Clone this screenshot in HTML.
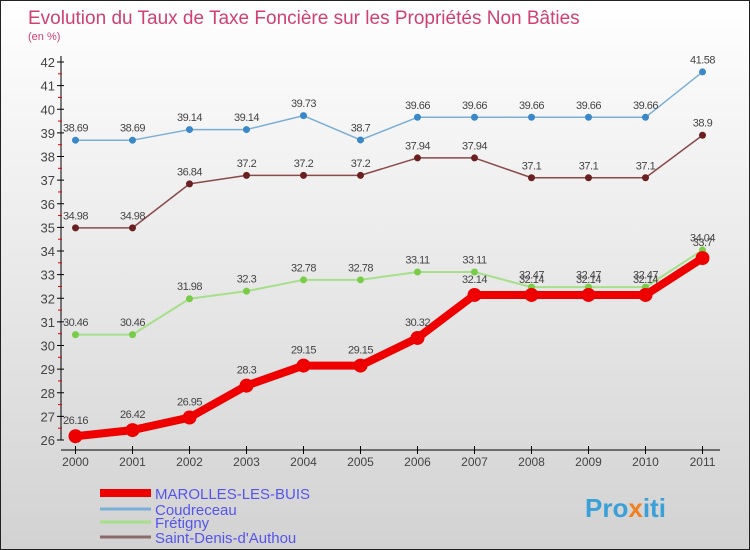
<!DOCTYPE html>
<html><head><meta charset="utf-8"><style>
body{margin:0}
#c{width:750px;height:550px;position:relative;overflow:hidden;font-family:"Liberation Sans",sans-serif}
</style></head><body>
<div id="c">
<svg id="s" width="750" height="550" xmlns="http://www.w3.org/2000/svg">
<defs><linearGradient id="bg" x1="0" y1="0" x2="0" y2="1"><stop offset="0" stop-color="#ffffff"/><stop offset="1" stop-color="#d2d2d2"/></linearGradient></defs>
<rect x="0.5" y="0.5" width="749" height="549" fill="url(#bg)" stroke="#222"/>
<text x="28" y="24" font-size="19" fill="#d04070">Evolution du Taux de Taxe Foncière sur les Propriétés Non Bâties</text>
<text x="28" y="40" font-size="11" fill="#d04070">(en %)</text>
<g id="axes"></g>
<g id="series"></g>
<g id="legend"></g>
<text x="585" y="517" font-size="26" font-weight="bold" fill="#3aa0d8">Pro<tspan fill="#f08020">x</tspan>iti</text>
</svg>
</div>
<script>
const years=[2000,2001,2002,2003,2004,2005,2006,2007,2008,2009,2010,2011];
const yTicks=[26,27,28,29,30,31,32,33,34,35,36,37,38,39,40,41,42];
const names=["MAROLLES-LES-BUIS","Coudreceau","Frétigny","Saint-Denis-d'Authou"];
const marolles=[26.16,26.42,26.95,28.3,29.15,29.15,30.32,32.14,32.14,32.14,32.14,33.7];
const coudreceau=[38.69,38.69,39.14,39.14,39.73,38.7,39.66,39.66,39.66,39.66,39.66,41.58];
const fretigny=[30.46,30.46,31.98,32.3,32.78,32.78,33.11,33.11,32.47,32.47,32.47,34.04];
const stdenis=[34.98,34.98,36.84,37.2,37.2,37.2,37.94,37.94,37.1,37.1,37.1,38.9];
const marollesLabels=["26.16","26.42","26.95","28.3","29.15","29.15","30.32","32.14","32.14","32.14","32.14","33.7"];

const NS="http://www.w3.org/2000/svg";
const X=i=>75.5+i*57;
const Y=v=>440-(v-26)*23.625;
function el(t,a,p){const e=document.createElementNS(NS,t);for(const k in a)e.setAttribute(k,a[k]);p.appendChild(e);return e;}
const ax=document.getElementById('axes');
let yl=el('line',{x1:61,y1:56,x2:61,y2:440,stroke:'#000'},ax);


let xl=el('line',{x1:61,y1:450,x2:720,y2:450,stroke:'#000'},ax);


yTicks.forEach((v,i)=>{
  el('line',{x1:57,y1:Y(v),x2:64,y2:Y(v),stroke:'#000'},ax);
  if(i<yTicks.length-1) el('line',{x1:58,y1:Y(v+0.5),x2:62,y2:Y(v+0.5),stroke:'#d00'},ax);
  const t=el('text',{x:55,y:Y(v)+5,'text-anchor':'end','font-size':13,fill:'#444'},ax);
  t.textContent=v;
  
  
});
years.forEach((y,i)=>{
  el('line',{x1:X(i),y1:446,x2:X(i),y2:454,stroke:'#000'},ax);
  const t=el('text',{x:X(i),y:466,'text-anchor':'middle','font-size':12,fill:'#444'},ax);
  t.textContent=y;
  
  
});
const sg=document.getElementById('series');
function series(vals,labels,color,dot,w,r,name){
  const g=el('g',{},sg);
  
  
  el('polyline',{points:vals.map((v,i)=>X(i)+','+Y(v)).join(' '),fill:'none',stroke:color,'stroke-width':w,'stroke-linejoin':'round'},g);
  vals.forEach((v,i)=>{
    const c=el('circle',{cx:X(i),cy:Y(v),r:r,fill:dot},g);
    
    
    const t=el('text',{x:X(i),y:Y(v)-(r+5),'text-anchor':'middle','font-size':11,fill:'#444','letter-spacing':'-0.5'},g);
    t.textContent=labels?labels[i]:String(v);
  });
}
series(coudreceau,null,'#7aaed6','#3a88c8',1.5,3.5,'series-coudreceau');
series(stdenis,null,'#8a4a4a','#6a2020',1.5,3.5,'series-saint-denis');
series(fretigny,null,'#a6e08a','#78cc48',2,3.5,'series-fretigny');
series(marolles,marollesLabels,'#ee0000','#ee0000',8,7,'series-marolles');
const lg=document.getElementById('legend');
const lc=['#ee0000','#7aaed6','#a6e08a','#8a6a6a'],lw=[8,3,3,3],ly=[493,509,522,537];
names.forEach((n,i)=>{
  const g=el('g',{},lg);
  
  
  el('line',{x1:100,y1:ly[i],x2:151,y2:ly[i],stroke:lc[i],'stroke-width':lw[i]},g);
  const t=el('text',{x:155,y:ly[i]+6,'font-size':15,fill:'#5555ee'},g);
  t.textContent=n;
});
</script>
</body></html>
